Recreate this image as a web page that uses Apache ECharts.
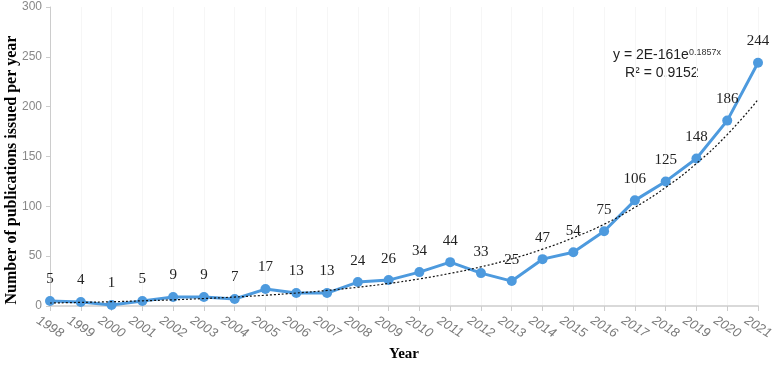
<!DOCTYPE html>
<html>
<head>
<meta charset="utf-8">
<script src="https://cdn.jsdelivr.net/npm/echarts@6/dist/echarts.min.js"></script>
<style>
  html, body { margin: 0; padding: 0; background: #fff; }
  #chart { width: 777px; height: 367px; }
</style>
</head>
<body>
<div id="chart"></div>
<script>
// years on the x axis
const years = ["1998", "1999", "2000", "2001", "2002", "2003", "2004", "2005", "2006", "2007", "2008", "2009",
  "2010", "2011", "2012", "2013", "2014", "2015", "2016", "2017", "2018", "2019", "2020", "2021"];

// publications per year
const publications = [5, 4, 1, 5, 9, 9, 7, 17, 13, 13, 24, 26, 34, 44, 33, 25, 47, 54, 75, 106, 125, 148, 186, 244];

// exponential trendline
const trend = [3.0, 3.6, 4.3, 5.2, 6.2, 7.5, 9.0, 10.8, 13.0, 15.6, 18.8, 22.6,
  27.2, 32.7, 39.3, 47.3, 57, 68.5, 82, 99, 119, 143, 172, 207];

const y_ticks = [0, 50, 100, 150, 200, 250, 300];

const serif = "'Liberation Serif', 'Times New Roman', serif";
const sans = "'Liberation Sans', Arial, sans-serif";

const chart = echarts.init(document.getElementById("chart"));
chart.setOption({
  animation: false,
  grid: { left: 50, right: 19, top: 7, bottom: 61, containLabel: false, outerBoundsMode: "none" },
  xAxis: {
    type: "category",
    boundaryGap: false,
    data: years,
    name: "Year",
    nameLocation: "middle",
    nameGap: 41,
    nameTextStyle: { fontFamily: serif, fontWeight: "bold", fontSize: 15, color: "#000" },
    axisLine: { lineStyle: { color: "#d9d9d9", width: 2 } },
    axisTick: { show: true, alignWithLabel: true, interval: 0, length: 5, lineStyle: { color: "#ccc" } },
    axisLabel: {
      interval: 0,
      rotate: -32,
      margin: 21,
      align: "center",
      verticalAlign: "middle",
      fontFamily: sans,
      fontStyle: "italic",
      fontSize: 13,
      color: "#7a7a7a"
    },
    splitLine: { show: true, interval: 0, lineStyle: { color: "#f6f6f6" } }
  },
  yAxis: {
    type: "value",
    min: y_ticks[0],
    max: y_ticks[y_ticks.length - 1],
    interval: 50,
    axisLine: { show: true, lineStyle: { color: "#ccc" } },
    axisTick: { show: true, length: 4, lineStyle: { color: "#ccc" } },
    axisLabel: { fontFamily: sans, fontSize: 12, color: "#888", margin: 8 },
    splitLine: { show: false }
  },
  series: [
    {
      type: "line",
      data: trend,
      smooth: true,
      showSymbol: false,
      z: 3,
      lineStyle: { color: "#111", width: 1.2, type: [2, 2] }
    },
    {
      type: "line",
      data: publications,
      symbol: "circle",
      symbolSize: 10,
      z: 2,
      itemStyle: { color: "#4d9ade" },
      lineStyle: { color: "#4d9ade", width: 3 },
      label: {
        show: true,
        position: "top",
        distance: 9,
        fontFamily: serif,
        fontSize: 15,
        color: "#222"
      }
    }
  ],
  graphic: [
    {
      // y axis title, placed by hand so it sits like the original
      type: "text",
      x: 12,
      y: 170,
      rotation: Math.PI / 2,
      style: {
        text: "Number of publications issued per year",
        align: "center",
        verticalAlign: "middle",
        font: "bold 16px " + serif,
        fill: "#000"
      }
    },
    {
      type: "text",
      left: 613,
      top: 48,
      style: {
        text: "{a|y = 2E-161e}{b|0.1857x}",
        rich: {
          a: { fontFamily: sans, fontSize: 14, fill: "#222" },
          b: { fontFamily: sans, fontSize: 9, fill: "#333", verticalAlign: "top" }
        }
      }
    },
    {
      type: "text",
      left: 625,
      top: 66,
      style: {
        text: "R² = 0.9152",
        font: "14px " + sans,
        fill: "#222"
      }
    }
  ]
});
</script>
</body>
</html>
